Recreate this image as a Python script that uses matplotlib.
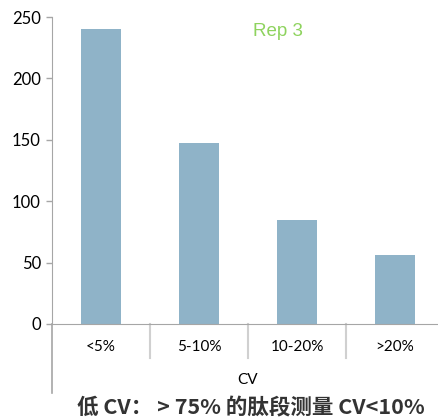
import matplotlib
matplotlib.use("Agg")
import matplotlib.pyplot as plt
import numpy as np

# data
categories = ["<5%", "5-10%", "10-20%", ">20%"]
counts = [240, 147, 85, 56]
y_ticks = [0, 50, 100, 150, 200, 250]

W, H = 439, 420
fig = plt.figure(figsize=(W / 100, H / 100), dpi=100)

# axes: y=0 at 324px, y=250 at 17px, x from 52px with 98px per category
ax = fig.add_axes([52 / W, 1 - 324 / H, 392 / W, 307 / H])

bar_color = "#8fb3c8"
axis_gray = "#a6a6a6"
x = np.arange(len(categories))
ax.bar(x, counts, width=40 / 98, color=bar_color, zorder=2)

ax.set_xlim(-0.5, len(categories) - 0.5)
ax.set_ylim(0, 250)
ax.set_yticks(y_ticks)
ax.set_yticklabels([str(v) for v in y_ticks], fontsize=12, family="Lato")
ax.tick_params(axis="y", length=4, width=1, color=axis_gray, pad=4)
ax.set_xticks([])

for s in ["top", "right"]:
    ax.spines[s].set_visible(False)
ax.spines["left"].set_color(axis_gray)
ax.spines["bottom"].set_color(axis_gray)

# y axis line continues down past the category labels
ax.plot([-0.5, -0.5], [0, -56], color=axis_gray, lw=1.2, clip_on=False)
# separators between categories
for b in [0.5, 1.5, 2.5]:
    ax.plot([b, b], [0, -28], color="#d0d0d0", lw=1.5, clip_on=False)

# category labels
for i, c in enumerate(categories):
    ax.text(i, -19, c, ha="center", va="center", fontsize=11, family="Lato")

fig.text(248 / W, 1 - 380 / H, "CV", ha="center", va="center",
         fontsize=11, family="Lato")

fig.text(278 / W, 1 - 31 / H, "Rep 3", ha="center", va="center",
         fontsize=13.5, color="#8ed35e", family="Liberation Sans")

fig.text(251 / W, 1 - 408 / H, "低 CV： > 75% 的肽段测量 CV<10%",
         ha="center", va="center", fontsize=15.5, fontweight="bold",
         family=["Noto Sans CJK SC", "DejaVu Sans"], color="#333333")

fig.savefig("out.png", dpi=100)
